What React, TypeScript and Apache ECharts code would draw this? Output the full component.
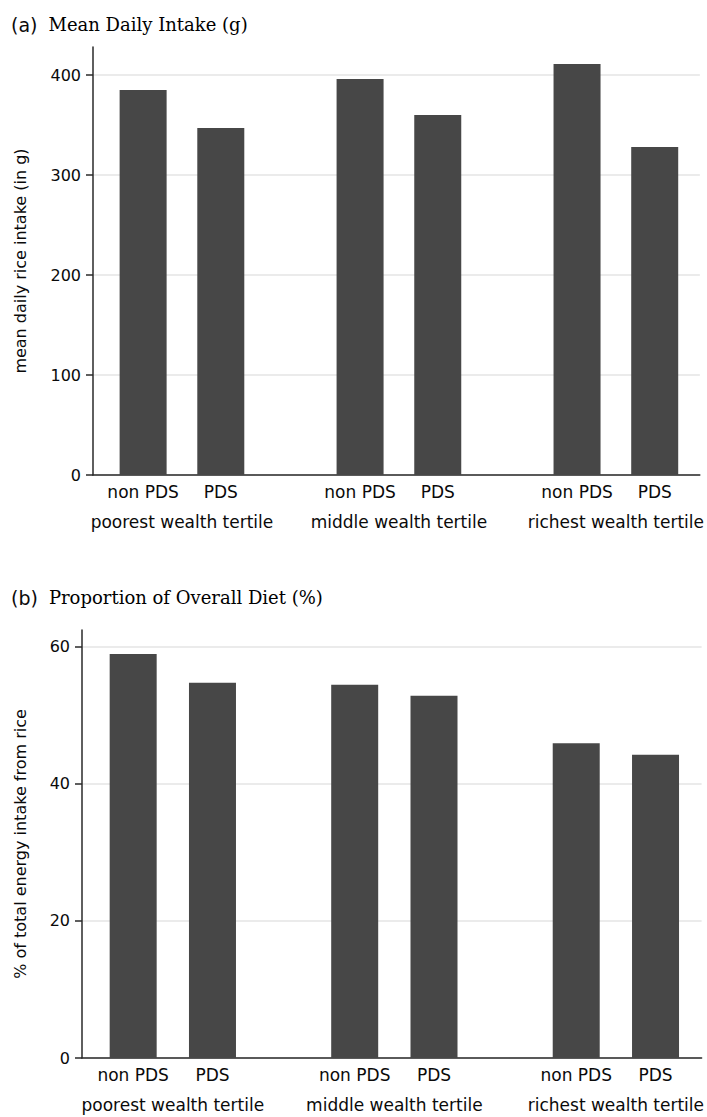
import React, { useEffect, useRef } from "react";
import * as echarts from "echarts";

const groups = ["poorest wealth tertile", "middle wealth tertile", "richest wealth tertile"];
const types = ["non PDS", "PDS"];
const intakeNonPDS = [385, 396, 411];
const intakePDS = [347, 360, 328];
const shareNonPDS = [58.9, 54.4, 45.9];
const sharePDS = [54.7, 52.8, 44.2];
const intakeTicks = [0, 100, 200, 300, 400];
const shareTicks = [0, 20, 40, 60];

const BAR_OFFSET = 0.179;
const X_MIN = -0.41;
const X_MAX = 2.387;
const SANS = "DejaVu Sans";
const SERIF = "DejaVu Serif";
const BAR_COLOR = "#474747";
const AXIS_COLOR = "#2a2a2a";
const TEXT_COLOR = "#0a0a0a";

const barPositions = groups.flatMap((_, g) => [g - BAR_OFFSET, g + BAR_OFFSET]);
const typeOf = (v: number) => types[v < Math.round(v) ? 0 : 1];

function panel(idx: number, grid: any, yName: string, yMax: number, ticks: number[], nameGap: number, nonPDS: number[], pds: number[]) {
  const xBase = idx * 2;
  const xAxes = [
    {
      type: "value", gridIndex: idx, min: X_MIN, max: X_MAX, position: "bottom",
      axisLine: { show: true, onZero: false, lineStyle: { color: AXIS_COLOR, width: 1.5 } },
      axisTick: { show: false }, splitLine: { show: false },
      axisLabel: {
        customValues: barPositions, formatter: (v: number) => typeOf(v), margin: 8,
        fontFamily: SANS, fontSize: 17, color: TEXT_COLOR,
      },
    },
    {
      type: "value", gridIndex: idx, min: X_MIN, max: X_MAX, position: "bottom", offset: 30,
      axisLine: { show: false, onZero: false }, axisTick: { show: false }, splitLine: { show: false },
      axisLabel: {
        customValues: groups.map((_, g) => g), formatter: (v: number) => groups[Math.round(v)], margin: 8,
        fontFamily: SANS, fontSize: 17, color: TEXT_COLOR,
      },
    },
  ];
  const yAxis = {
    type: "value", gridIndex: idx, min: 0, max: yMax,
    name: yName, nameLocation: "middle", nameGap,
    nameTextStyle: { fontFamily: SANS, fontSize: 16, color: TEXT_COLOR },
    axisLine: { show: true, onZero: false, lineStyle: { color: AXIS_COLOR, width: 1.5 } },
    axisTick: { show: true, length: 7, customValues: ticks, lineStyle: { color: AXIS_COLOR, width: 1.5 } },
    axisLabel: { customValues: ticks, margin: 12, fontFamily: SANS, fontSize: 16, color: TEXT_COLOR },
    splitLine: { show: true, lineStyle: { color: "#e4e4e4", width: 1.5 } },
  };
  const mk = (vals: number[], t: number) => ({
    type: "bar", name: types[t], xAxisIndex: xBase, yAxisIndex: idx, barWidth: 47, barGap: "-100%",
    itemStyle: { color: BAR_COLOR },
    data: vals.map((v, g) => [g + (t === 0 ? -BAR_OFFSET : BAR_OFFSET), v]),
  });
  return { grid, xAxes, yAxis, series: [mk(nonPDS, 0), mk(pds, 1)] };
}

export default function App() {
  const ref = useRef<HTMLDivElement>(null);
  useEffect(() => {
    document.body.style.margin = "0";
    const chart = echarts.init(ref.current!, null, { renderer: "svg" });
    const a = panel(0, { left: 93, right: 5, top: 47, height: 428 }, "mean daily rice intake (in g)", 428, intakeTicks, 65, intakeNonPDS, intakePDS);
    const b = panel(1, { left: 82, right: 4, top: 630, height: 428 }, "% of total energy intake from rice", 62.4, shareTicks, 54, shareNonPDS, sharePDS);
    const titleRich = {
      a: { fontFamily: SANS, fontSize: 19, fontWeight: "normal", color: TEXT_COLOR },
      b: { fontFamily: SERIF, fontSize: 18, fontWeight: "normal", color: "#000", padding: [0, 0, 0, 11] },
    };
    chart.setOption({
      animation: false,
      backgroundColor: "#fff",
      title: [
        { left: 6, top: 10, text: "{a|(a)}{b|Mean Daily Intake (g)}", textStyle: { fontWeight: "normal", rich: titleRich } },
        { left: 6, top: 583, text: "{a|(b)}{b|Proportion of Overall Diet (%)}", textStyle: { fontWeight: "normal", rich: titleRich } },
      ],
      grid: [a.grid, b.grid],
      xAxis: [...a.xAxes, ...b.xAxes],
      yAxis: [a.yAxis, b.yAxis],
      series: [...a.series, ...b.series],
    });
    return () => chart.dispose();
  }, []);
  return <div ref={ref} style={{ width: 707, height: 1117 }} />;
}
